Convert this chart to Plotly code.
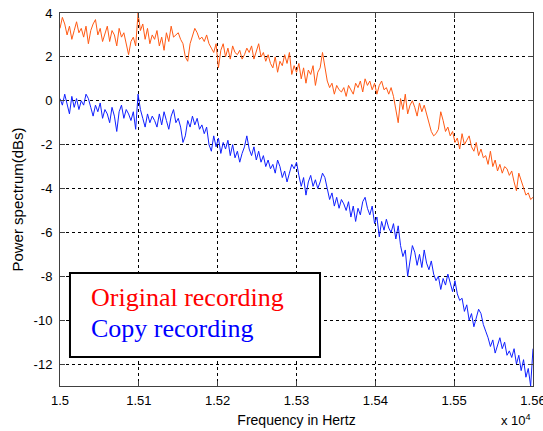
import numpy as np
import plotly.graph_objects as go

# Frequency bins (Hz), 3 Hz spacing from 15000 to 15600
freq = np.arange(15000, 15601, 3)

# Power spectrum of the original recording (dB)
original_db = [
    3.3, 3.8, 3.5, 3.0, 3.4, 2.8, 3.2, 3.6, 3.1, 3.3,
    2.9, 3.4, 2.6, 3.2, 3.5, 3.7, 3.0, 3.3, 2.7, 3.1,
    3.4, 2.7, 3.2, 3.0, 2.5, 3.3, 2.9, 3.1, 2.6, 2.1,
    2.7, 2.9, 2.5, 4.0, 3.2, 3.5, 2.8, 3.3, 2.6, 3.0,
    2.8, 3.2, 2.5, 2.9, 2.3, 3.1, 2.7, 3.4, 2.9, 3.0,
    3.1, 2.8, 2.6, 2.0, 1.8, 2.6, 2.9, 3.3, 3.1, 2.8,
    2.9, 2.7, 3.0, 2.6, 2.4, 2.2, 2.6, 1.5, 2.3, 2.6,
    2.0, 2.4, 1.9, 2.5, 2.2, 2.1, 2.3, 1.9, 2.1, 2.4,
    2.2, 2.5, 1.9, 2.3, 2.6, 2.0, 2.2, 1.8, 2.1, 1.7,
    1.5, 2.0, 1.3, 1.8, 1.6, 2.1, 1.7, 2.2, 1.2, 1.6,
    1.3, 1.7, 1.0, 1.5, 0.8, 1.4, 1.2, 1.6, 0.7, 1.3,
    1.5, 2.2, 1.6, 0.9, 0.6, 0.8, 0.3, 0.7, 0.5, 0.4,
    0.6, 0.2, 0.7, 0.5, 0.3, 0.8, 0.6, 0.9, 0.4, 1.0,
    0.7, 0.9, 0.5, 0.8, 0.3, 0.7, 0.9, 0.5, 0.6, 0.3,
    0.6, 0.2, -0.5, -1.0, 0.1, -0.4, 0.3, -0.6, -0.2, 0.0,
    -0.3, -0.7, -0.1, -0.5, -0.2, -0.6, -1.0, -1.4, -1.6, -1.5,
    -1.3, -0.5, -0.9, -1.4, -1.2, -1.6, -1.4, -1.9, -1.7, -2.2,
    -1.5, -2.0, -1.8, -1.6, -2.1, -2.3, -1.9, -2.5, -2.2, -2.6,
    -2.5, -2.9, -2.3, -3.0, -2.7, -3.2, -2.9, -3.3, -3.0, -3.1,
    -3.4, -3.2, -3.7, -4.1, -3.3, -3.6, -4.0, -4.3, -4.2, -4.5,
    -4.4,
]

# Power spectrum of the copy recording (dB)
copy_db = [
    0.1, -0.2, 0.3, -0.1, -0.6, 0.2, -0.3, 0.1, -0.4, 0.0,
    -0.2, 0.3, 0.1, -0.3, -0.7, -0.2, -0.5, -0.1, -0.8, -0.4,
    -0.6, -1.0, -0.3, -0.7, -1.4, -0.5, -0.2, -0.8, -0.4, -0.6,
    -0.9, -0.5, -1.3, 0.3, -0.4, -0.8, -1.2, -0.6, -1.0, -0.7,
    -0.9, -1.2, -0.6, -1.1, -0.5, -0.9, -1.3, -0.7, -0.4, -1.0,
    -0.8, -1.2, -1.9, -1.6, -0.9, -1.2, -0.7, -1.1, -0.8, -1.3,
    -1.1, -1.5, -1.2, -2.0, -2.3, -1.6, -2.1, -1.7, -2.4, -1.9,
    -2.2, -1.8, -2.5, -2.0, -2.6, -2.3, -2.8, -2.4, -2.1, -1.6,
    -2.2, -2.5, -2.1, -2.7, -2.3, -2.8, -2.5, -3.0, -2.7, -3.1,
    -2.9, -3.3, -2.7, -3.0, -3.5, -3.2, -3.7, -3.3, -2.9, -3.1,
    -2.8, -3.4, -3.9, -3.5, -4.3, -3.7, -3.4, -3.9, -3.6, -4.0,
    -3.7, -3.3, -3.5, -4.0, -4.5, -4.2, -4.8, -4.4, -4.9, -4.5,
    -4.7, -5.0, -4.6, -5.3, -4.8, -5.5, -4.9, -5.2, -4.6, -4.4,
    -4.9, -5.2, -4.8, -5.6, -5.3, -6.2, -5.5, -5.9, -5.4, -5.8,
    -6.0, -5.6, -6.3, -5.7, -6.6, -7.1, -6.8, -8.0, -7.3, -6.6,
    -6.9, -7.5, -7.0, -7.6, -6.8, -7.4, -7.7, -7.3, -7.9, -8.2,
    -8.0, -8.6, -8.1, -8.4, -7.9, -8.3, -8.7, -8.2, -8.8, -9.1,
    -9.0, -9.6, -9.3, -10.0, -9.7, -10.3, -9.9, -9.5, -9.7, -10.2,
    -10.5, -10.8, -11.2, -10.9, -11.5, -11.1, -10.8, -11.3, -11.0, -11.6,
    -11.4, -11.7, -11.3, -12.0, -11.6, -12.3, -11.8, -12.6, -12.2, -13.0,
    -11.3,
]

x_ticks = [15000, 15100, 15200, 15300, 15400, 15500, 15600]
x_tick_labels = ["1.5", "1.51", "1.52", "1.53", "1.54", "1.55", "1.56"]
y_ticks = [4, 2, 0, -2, -4, -6, -8, -10, -12]
y_tick_labels = ["4", "2", "0", "-2", "-4", "-6", "-8", "-10", "-12"]

legend_names = ["Original recording", "Copy recording"]
legend_colors = ["#FF0000", "#0000FF"]

SANS = "Liberation Sans, Arial"

fig = go.Figure()
fig.add_trace(go.Scatter(x=freq, y=original_db, mode="lines",
                         line=dict(color="#FF5A14", width=1),
                         name=legend_names[0]))
fig.add_trace(go.Scatter(x=freq, y=copy_db, mode="lines",
                         line=dict(color="#1020FF", width=1),
                         name=legend_names[1]))

axis_common = dict(
    automargin=False,
    showgrid=True, gridcolor="#000000", gridwidth=1, griddash="3px,3px",
    zeroline=False, showline=True, linecolor="#404040", linewidth=1,
    mirror="ticks", ticks="inside", ticklen=5, tickcolor="#404040",
    tickfont=dict(family=SANS, size=13, color="#000000"),
)

fig.update_xaxes(range=[15000, 15600], tickvals=x_ticks, ticktext=x_tick_labels,
                 ticklabeloverflow="allow", ticklabelstandoff=2,
                 title=dict(text="Frequency in Hertz", standoff=8,
                            font=dict(family=SANS, size=14, color="#000")),
                 **axis_common)
fig.update_yaxes(range=[-13, 4], tickvals=y_ticks, ticktext=y_tick_labels,
                 ticklabelstandoff=4,
                 title=dict(text="Power spectrum(dBs)", standoff=6,
                            font=dict(family=SANS, size=15, color="#000")),
                 **axis_common)

# Boxed legend in the lower-left corner
fig.add_shape(type="rect", xref="paper", yref="paper",
              x0=0.0211, x1=0.5497, y0=0.0777, y1=0.303,
              line=dict(color="#000000", width=2), fillcolor="#FFFFFF", layer="above")
for name, color, ypos in zip(legend_names, legend_colors, [0.238, 0.155]):
    fig.add_annotation(text=name, xref="paper", yref="paper", x=0.0613, y=ypos,
                       xanchor="left", yanchor="middle", showarrow=False,
                       font=dict(family="Liberation Serif, Times New Roman", size=26, color=color))

# Axis multiplier
fig.add_annotation(text="x 10<sup>4</sup>", xref="paper", yref="paper", x=1.0, y=-0.118,
                   xanchor="right", yanchor="bottom", showarrow=False,
                   font=dict(family=SANS, size=13, color="#000"))

fig.update_layout(
    width=543, height=431,
    margin=dict(l=60, r=10, t=13, b=45),
    paper_bgcolor="#FFFFFF", plot_bgcolor="#FFFFFF",
    showlegend=False,
)

fig.write_html("out.html")
